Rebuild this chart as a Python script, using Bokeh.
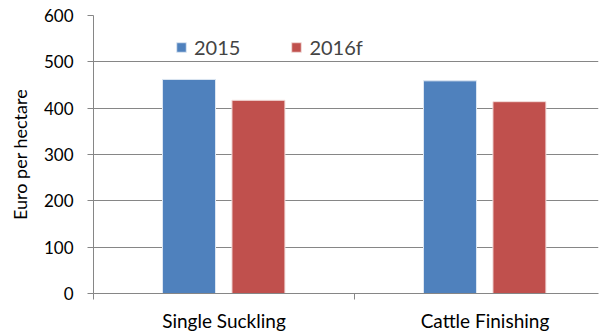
from bokeh.plotting import figure
from bokeh.models import Range1d, FixedTicker, ColumnDataSource, Legend, LegendItem
from bokeh.transform import dodge
from bokeh.embed import file_html
from bokeh.resources import INLINE

categories = ["Single Suckling", "Cattle Finishing"]
series_names = ["2015", "2016f"]
values_2015 = [462, 459]
values_2016f = [417, 414]
y_ticks = [0, 100, 200, 300, 400, 500, 600]

FONT = "Lato"
GRAY = "#868686"

xpos = [i + 0.5 for i in range(len(categories))]
src = ColumnDataSource(dict(x=xpos, v2015=values_2015, v2016=values_2016f))

p = figure(width=599, height=334, output_backend="svg", toolbar_location=None,
           x_range=Range1d(0, 1.935), y_range=Range1d(0, 600),
           min_border_left=93, min_border_top=15, min_border_bottom=40, min_border_right=1)
p.outline_line_color = None
p.background_fill_color = "white"

r1 = p.vbar(x=dodge("x", -0.134), top="v2015", width=0.203, source=src,
            fill_color="#4F81BD", line_color="#DCE6F2", line_width=1)
r2 = p.vbar(x=dodge("x", 0.132), top="v2016", width=0.203, source=src,
            fill_color="#C0504D", line_color="#F2DCDB", line_width=1)

# axes
p.xgrid.visible = False
p.ygrid.grid_line_color = GRAY
p.ygrid.ticker = FixedTicker(ticks=y_ticks)

p.yaxis.ticker = FixedTicker(ticks=y_ticks)
p.yaxis.axis_line_color = GRAY
p.yaxis.major_tick_line_color = GRAY
p.yaxis.major_tick_out = 6
p.yaxis.major_tick_in = 0
p.yaxis.minor_tick_line_color = None
p.yaxis.major_label_text_font = FONT
p.yaxis.major_label_text_font_size = "17px"
p.yaxis.major_label_text_color = "black"
p.yaxis.major_label_standoff = 14
p.yaxis.axis_label = "Euro per hectare"
p.yaxis.axis_label_text_font = FONT
p.yaxis.axis_label_text_font_size = "18px"
p.yaxis.axis_label_text_font_style = "normal"
p.yaxis.axis_label_text_color = "black"
p.yaxis.axis_label_standoff = 10

p.xaxis.ticker = FixedTicker(ticks=xpos, minor_ticks=[0, 1, 2])
p.xaxis.major_label_overrides = {x: c for x, c in zip(xpos, categories)}
p.xaxis.axis_line_color = GRAY
p.xaxis.major_tick_line_color = None
p.xaxis.minor_tick_line_color = GRAY
p.xaxis.minor_tick_out = 6
p.xaxis.minor_tick_in = 0
p.xaxis.major_label_text_font = FONT
p.xaxis.major_label_text_font_size = "19px"
p.xaxis.major_label_text_color = "black"
p.xaxis.major_label_standoff = 9

legend = Legend(items=[LegendItem(label=series_names[0], renderers=[r1]),
                       LegendItem(label=series_names[1], renderers=[r2])],
                orientation="horizontal", location=(82, 234),
                padding=0, margin=0, spacing=50, label_standoff=7,
                glyph_width=12, glyph_height=12,
                label_text_font=FONT, label_text_font_size="20px",
                border_line_color=None, background_fill_alpha=0)
p.add_layout(legend)

open("out.html", "w").write(file_html(p, INLINE))
